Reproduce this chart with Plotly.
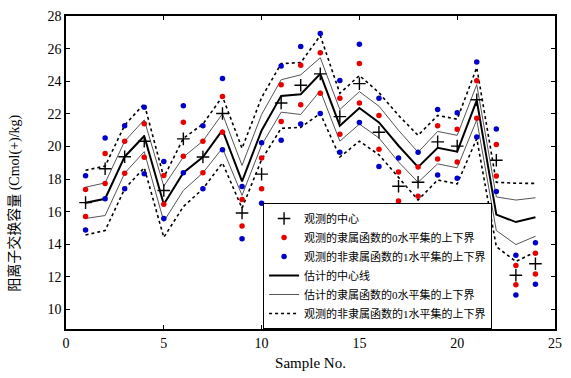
import plotly.graph_objects as go

samples = list(range(1, 25))

obs_center = [16.55, 18.63, 19.37, 20.32, 17.3, 20.46, 19.35, 22.02, 15.92, 18.3, 22.66, 23.75,
              24.45, 21.83, 23.85, 20.87, 17.56, 17.8, 20.28, 20.02, 22.86, 19.15, 12.1, 12.8]

obs0_upper = [17.36, 19.57, 20.32, 21.39, 18.21, 21.49, 20.32, 23.06, 16.75, 19.29, 23.79, 24.98,
              25.74, 22.96, 25.08, 21.9, 18.43, 18.73, 21.27, 21.05, 24.03, 20.12, 12.7, 13.45]
obs0_lower = [15.7, 17.72, 18.36, 19.33, 16.45, 19.4, 18.38, 20.87, 15.12, 17.4, 21.53, 22.56,
              23.26, 20.74, 22.66, 19.82, 16.65, 16.95, 19.23, 19.05, 21.73, 18.18, 11.51, 12.17]

obs1_upper = [18.2, 20.52, 21.27, 22.4, 19.07, 22.5, 21.27, 24.17, 17.54, 20.22, 24.94, 26.13,
              26.93, 24.05, 26.27, 22.96, 19.29, 19.64, 22.26, 22.07, 25.18, 21.07, 13.32, 14.09]
obs1_lower = [14.88, 16.79, 17.4, 18.32, 15.58, 18.39, 17.4, 19.79, 14.33, 16.51, 20.38, 21.37,
              22.02, 19.64, 21.47, 18.77, 15.77, 16.05, 18.24, 18.04, 20.58, 17.23, 10.89, 11.55]

est_center = [16.55, 16.79, 19.37, 20.64, 16.45, 18.39, 19.35, 21.0, 17.86, 20.98, 23.1, 23.2,
              24.45, 21.27, 22.36, 21.47, 20.04, 18.73, 19.92, 19.68, 22.82, 15.82, 15.36, 15.66]

est0_upper = [17.5, 17.76, 20.32, 21.63, 17.56, 19.35, 20.33, 22.0, 18.83, 21.96, 24.09, 24.39,
              25.44, 22.26, 23.36, 22.47, 20.99, 19.64, 20.92, 20.68, 23.79, 16.9, 16.71, 16.85]
est0_lower = [15.58, 15.76, 18.36, 19.68, 15.4, 17.3, 18.38, 19.9, 17.0, 20.08, 22.1, 21.96,
              23.42, 20.32, 21.37, 20.52, 19.05, 17.8, 18.93, 18.69, 21.63, 14.84, 13.98, 14.49]

est1_upper = [18.54, 18.79, 21.3, 22.62, 18.1, 20.5, 21.37, 23.06, 19.88, 23.0, 25.08, 25.14,
              26.8, 23.26, 24.35, 23.3, 21.9, 20.68, 21.9, 21.67, 24.84, 17.8, 17.74, 17.73]
est1_lower = [14.57, 14.84, 17.4, 18.69, 14.42, 16.31, 17.4, 18.99, 16.21, 19.19, 21.11, 21.17,
              22.02, 19.35, 20.32, 19.49, 18.1, 16.71, 17.94, 17.7, 20.48, 13.85, 12.94, 13.53]

names = ["观测的中心",
         "观测的隶属函数的0水平集的上下界",
         "观测的非隶属函数的1水平集的上下界",
         "估计的中心线",
         "估计的隶属函数的0水平集的上下界",
         "观测的非隶属函数的1水平集的上下界"]

y_title = "阳离子交换容量 (Cmol(+)/kg)"
x_title = "Sample No."

SERIF = "Liberation Serif"
MIXED = "Liberation Serif, Noto Sans CJK SC"

fig = go.Figure()

# lines first (drawn underneath)
fig.add_trace(go.Scatter(x=samples, y=est_center, mode="lines", name=names[3], legendrank=4,
                         line=dict(color="black", width=2)))
fig.add_trace(go.Scatter(x=samples + [None] + samples, y=est0_upper + [None] + est0_lower,
                         mode="lines", name=names[4], legendrank=5, connectgaps=False,
                         line=dict(color="rgb(85,85,85)", width=1)))
fig.add_trace(go.Scatter(x=samples + [None] + samples, y=est1_upper + [None] + est1_lower,
                         mode="lines", name=names[5], legendrank=6, connectgaps=False,
                         line=dict(color="black", width=1.6, dash="dot")))

# observed points
fig.add_trace(go.Scatter(x=samples, y=obs_center, mode="markers", name=names[0], legendrank=1,
                         marker=dict(symbol="cross-thin", size=9, color="black",
                                     line=dict(color="black", width=1.4))))
fig.add_trace(go.Scatter(x=samples + samples, y=obs0_upper + obs0_lower, mode="markers",
                         name=names[1], legendrank=2,
                         marker=dict(symbol="circle", size=5.5, color="rgb(230,0,0)")))
fig.add_trace(go.Scatter(x=samples + samples, y=obs1_upper + obs1_lower, mode="markers",
                         name=names[2], legendrank=3,
                         marker=dict(symbol="circle", size=5.5, color="rgb(0,0,200)")))

axis_common = dict(showline=True, linecolor="black", linewidth=1.5, mirror="ticks",
                   ticks="inside", ticklen=4, tickwidth=1, tickcolor="black",
                   showgrid=False, zeroline=False,
                   tickfont=dict(family=SERIF, size=14, color="black"))

fig.update_layout(
    width=571, height=378,
    margin=dict(l=66, r=9, t=10, b=46),
    paper_bgcolor="white", plot_bgcolor="white",
    font=dict(family=MIXED, color="black"),
    xaxis=dict(range=[0, 25], dtick=5, tick0=0,
               title=dict(text=x_title, standoff=8,
                          font=dict(family=SERIF, size=15, color="black")),
               **axis_common),
    yaxis=dict(range=[8.8, 28], dtick=2, tick0=0, **axis_common),
    legend=dict(x=0.403, y=0.0, xanchor="left", yanchor="bottom",
                bgcolor="white", bordercolor="black", borderwidth=1,
                font=dict(family=MIXED, size=11, color="black"),
                tracegroupgap=0),
    showlegend=True,
    annotations=[dict(text=y_title, textangle=-90, showarrow=False,
                      xref="paper", yref="paper", x=0, y=0.40, xshift=-51,
                      xanchor="center", yanchor="middle",
                      font=dict(family=MIXED, size=14, color="black"))],
)

fig.write_html("out.html", config={"displayModeBar": False},
               post_script="document.body.style.margin='0';document.body.style.padding='0';")
